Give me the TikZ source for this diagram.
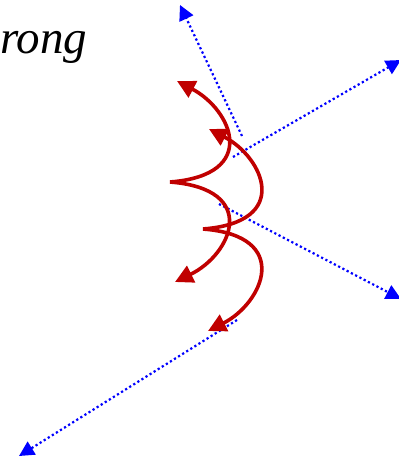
\documentclass[tikz,border=0pt]{standalone}
\usepackage{fontspec}
\setmainfont{Liberation Serif}
\usetikzlibrary{arrows.meta,positioning}
\definecolor{darkred}{RGB}{192,0,0}

\begin{document}
\begin{tikzpicture}[x=1pt, y=-1pt,
        ray/.style={-{Triangle[length=15pt, width=15pt]}, blue, line width=2.2pt, dash pattern=on 2.2pt off 2.6pt},
        spin/.style={-{Triangle[length=18pt, width=18pt]}, darkred, line width=3.6pt}
    ]
    \useasboundingbox (0,0) rectangle (399,458);

    % Text
    \node[anchor=base west, inner sep=0pt, font=\fontsize{47}{52}\selectfont\itshape] (lbl) at (0,53) {rong};

    % Punkte
    \coordinate (a1) at (242,136);  \coordinate (b1) at (180,5);
    \coordinate (a2) at (233,157);  \coordinate (b2) at (401,60);
    \coordinate (a3) at (219,204);  \coordinate (b3) at (401,299);
    \coordinate (a4) at (237,320);  \coordinate (b4) at (19,456);
    \coordinate (c1) at (170,182);
    \coordinate (c2) at (203,229);
    \coordinate (t1) at (177,81);   \coordinate (t2) at (175,282);
    \coordinate (t3) at (209,129);  \coordinate (t4) at (208,331);

    % Strahlen
    \draw[ray] (a1) -- (b1);
    \draw[ray] (a2) -- (b2);
    \draw[ray] (a3) -- (b3);
    \draw[ray] (a4) -- (b4);

    % Boegen
    \draw[spin] (c1) .. controls (260,175) and (232,110) .. (t1);
    \draw[spin] (c1) .. controls (260,189) and (232,254) .. (t2);
    \draw[spin] (c2) .. controls (293,222) and (263,157) .. (t3);
    \draw[spin] (c2) .. controls (293,236) and (263,303) .. (t4);

\end{tikzpicture}
\end{document}
